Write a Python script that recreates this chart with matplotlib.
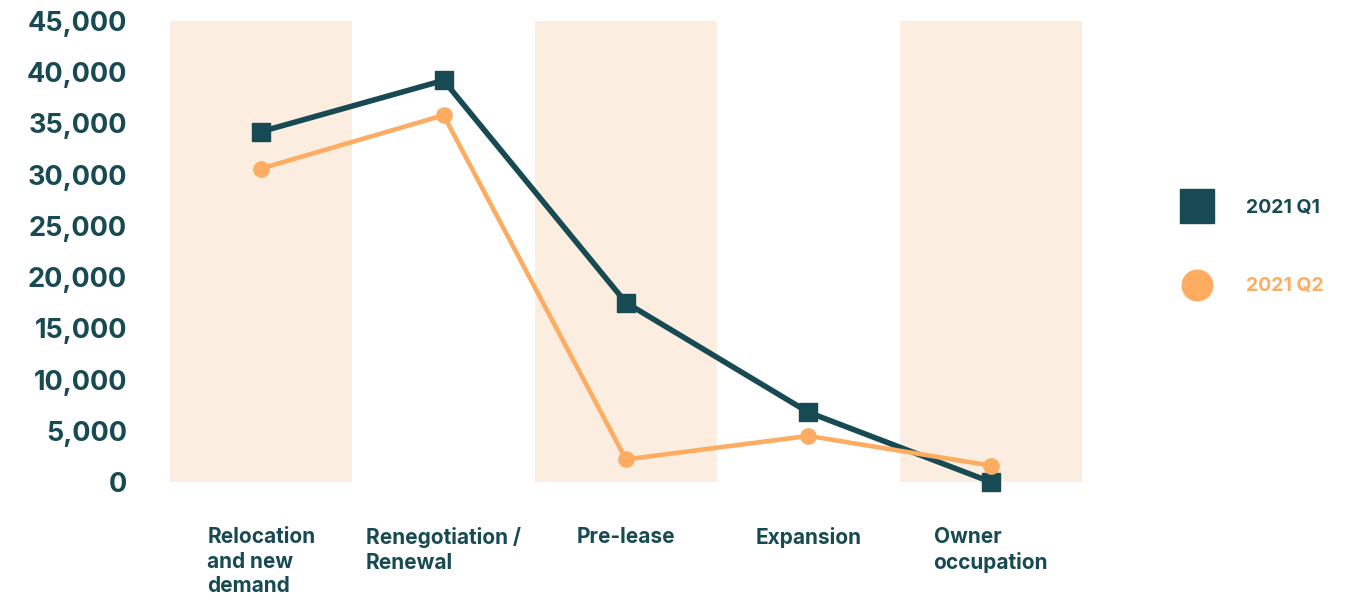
# Datos del grafico

import numpy as np
import matplotlib.pyplot as plt
from matplotlib.lines import Line2D

plt.rcParams['font.family'] = ['Inter', 'DejaVu Sans']

categorias = ["Relocation\nand new\ndemand", "Renegotiation /\nRenewal", "Pre-lease",
              "Expansion", "Owner\noccupation"]
q1 = [34200, 39200, 17500, 6800, 0]
q2 = [30600, 35800, 2200, 4500, 1600]
series = ["2021 Q1", "2021 Q2"]
yticks = [0, 5000, 10000, 15000, 20000, 25000, 30000, 35000, 40000, 45000]

TEAL = "#174A52"
NARANJA = "#FDAC62"
BANDA = "#FBEEE1"

fig = plt.figure(figsize=(13.6, 5.96), dpi=100)
ax = fig.add_axes([0.125, 0.1913, 0.6706, 0.7735])

x = np.arange(len(categorias))

# Bandas de fondo
for i in x[::2]:
    ax.axvspan(i - 0.5, i + 0.5, color=BANDA, lw=0, zorder=0)

ax.plot(x, q1, color=TEAL, lw=4, marker="s", ms=13, clip_on=False, zorder=3)
ax.plot(x, q2, color=NARANJA, lw=3.3, marker="o", ms=11, clip_on=False, zorder=4)

ax.set_xlim(-0.5, len(categorias) - 0.5)
ax.set_ylim(0, 45000)
ax.set_yticks(yticks)
ax.set_yticklabels([f"{v:,}" for v in yticks], fontsize=19.5, fontweight="bold", color=TEAL)
ax.tick_params(axis="y", length=0, pad=31)
ax.set_xticks([])
for s in ax.spines.values():
    s.set_visible(False)

# Etiquetas de categorias
for i, c in enumerate(categorias):
    ax.text(i, -0.097, c, transform=ax.get_xaxis_transform(), ha="center", va="top",
            multialignment="left", fontsize=15, fontweight="bold", color=TEAL,
            linespacing=1.3)

# Leyenda
handles = [Line2D([], [], color=TEAL, marker="s", ls="none", ms=24),
           Line2D([], [], color=NARANJA, marker="o", ls="none", ms=22)]
fig.legend(handles, series, loc="center left", bbox_to_anchor=(0.853, 0.585),
           frameon=False, labelcolor=[TEAL, NARANJA],
           prop={"weight": "bold", "size": 14}, labelspacing=3.1, handletextpad=1.5)

plt.savefig("out.png", dpi=100)
